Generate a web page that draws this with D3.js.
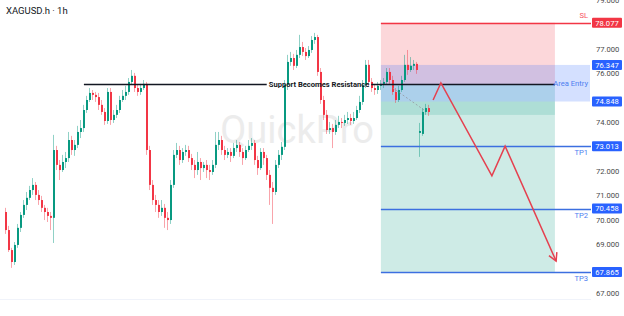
<!DOCTYPE html>
<html>
<head>
<meta charset="utf-8">
<script src="https://cdn.jsdelivr.net/npm/d3@7/dist/d3.min.js"></script>
<style>
  body { margin: 0; background: #fff; }
  svg { display: block; font-family: Roboto, "Noto Sans", sans-serif; }
</style>
</head>
<body>
<div id="chart"></div>
<script>
// XAGUSD.h 1h candles, [open, high, low, close], one per slot
const candles = [
  [70.32,70.49,69.42,69.58],[69.58,69.75,68.68,68.76],[68.76,68.85,68.03,68.27],[68.27,69.09,68.15,68.97],
  [68.97,69.83,68.85,69.67],[69.67,70.32,69.50,70.20],[70.20,70.81,70.08,70.61],[70.61,71.14,70.40,70.90],
  [70.90,71.39,70.81,71.22],[71.22,71.71,71.02,71.43],[71.43,71.55,70.81,71.02],[71.02,71.22,70.61,70.81],
  [70.81,70.98,70.32,70.49],[70.49,70.61,69.99,70.32],[70.32,70.49,69.91,70.16],[70.16,70.32,69.58,70.08],
  [70.08,73.48,69.05,72.86],[72.86,73.03,72.04,72.25],[72.25,72.45,71.63,72.04],[72.04,72.66,71.96,72.37],
  [72.37,72.78,72.12,72.53],[72.53,73.60,72.37,73.27],[73.27,73.44,72.66,72.86],[72.86,73.27,72.62,73.07],
  [73.07,73.85,72.94,73.60],[73.60,74.09,73.35,73.76],[73.76,74.71,73.60,74.50],[74.50,75.08,74.38,74.91],
  [74.91,75.40,74.83,75.20],[75.20,75.32,74.91,75.12],[75.12,75.24,74.83,75.03],[75.03,75.20,74.50,74.71],
  [74.71,74.91,74.30,74.42],[74.42,74.58,73.89,74.05],[74.05,75.40,73.93,75.24],[75.24,75.40,73.89,74.09],
  [74.09,74.50,73.97,74.30],[74.30,74.71,74.17,74.50],[74.50,75.08,74.38,74.91],[74.91,75.32,74.83,75.08],
  [75.08,75.49,74.91,75.24],[75.24,75.81,75.12,75.65],[75.65,76.14,75.53,75.90],[75.90,76.02,75.24,75.40],
  [75.40,75.53,75.08,75.24],[75.24,75.57,75.12,75.40],[75.40,75.73,75.32,75.57],[75.57,75.65,72.66,72.86],
  [72.86,73.03,71.22,71.43],[71.43,71.63,70.61,70.81],[70.81,71.02,70.32,70.61],[70.61,70.81,70.08,70.32],
  [70.32,70.81,70.16,70.49],[70.49,70.65,69.67,70.08],[70.08,70.32,69.58,69.99],[69.99,71.63,69.83,71.43],
  [71.43,72.86,71.31,72.66],[72.66,73.15,72.53,72.86],[72.86,73.03,72.25,72.45],[72.45,72.94,72.33,72.78],
  [72.78,73.07,72.62,72.86],[72.86,73.03,72.37,72.53],[72.53,72.70,72.04,72.25],[72.25,72.45,71.71,72.04],
  [72.04,72.78,71.84,72.37],[72.37,72.53,71.63,72.12],[72.12,72.37,71.96,72.25],[72.25,72.45,71.71,72.04],
  [72.04,72.25,71.63,71.96],[71.96,72.45,71.84,72.25],[72.25,73.60,72.12,73.07],[73.07,73.60,72.86,73.27],
  [73.27,73.44,72.66,72.86],[72.86,73.03,72.45,72.66],[72.66,72.94,72.53,72.78],[72.78,72.94,72.37,72.62],
  [72.62,73.15,72.53,72.94],[72.94,73.27,72.78,73.07],[73.07,73.19,72.58,72.78],[72.78,72.94,72.25,72.53],
  [72.53,73.03,72.45,72.86],[72.86,73.27,72.78,73.03],[73.03,73.35,72.86,73.15],[73.15,73.27,72.25,72.45],
  [72.45,72.62,71.84,72.12],[72.12,72.94,72.04,72.78],[72.78,72.94,72.25,72.53],[72.53,72.66,71.63,71.84],
  [71.84,72.04,70.61,71.31],[71.31,71.55,69.83,71.14],[71.14,72.45,71.02,72.25],[72.25,72.86,72.12,72.66],
  [72.66,73.19,72.45,72.99],[72.99,75.73,72.86,75.53],[75.53,76.76,75.32,76.47],[76.47,76.88,76.31,76.63],
  [76.63,76.80,76.14,76.31],[76.31,76.96,76.22,76.76],[76.76,77.58,76.63,77.08],[77.08,77.29,76.71,76.88],
  [76.88,77.04,76.55,76.71],[76.71,77.12,76.63,76.96],[76.96,77.53,76.84,77.37],[77.37,77.66,77.21,77.49],
  [77.49,77.58,75.90,76.06],[76.06,76.22,74.75,74.91],[74.91,75.08,74.09,74.30],[74.30,74.50,73.52,73.68],
  [73.68,74.01,73.52,73.76],[73.76,73.93,72.94,73.60],[73.60,74.09,73.48,73.89],[73.89,74.26,73.76,74.01],
  [74.01,74.17,73.76,73.97],[73.97,74.30,73.85,74.09],[74.09,74.42,73.93,74.17],[74.17,74.34,73.89,74.05],
  [74.05,74.42,73.93,74.17],[74.17,74.67,74.09,74.50],[74.50,75.08,74.38,74.83],[74.83,75.73,74.71,75.53],
  [75.53,76.55,75.40,76.35],[76.35,76.55,75.49,75.65],[75.65,75.81,75.24,75.40],[75.40,75.53,75.12,75.32],
  [75.32,75.65,75.16,75.49],[75.49,75.73,75.32,75.57],[75.57,75.81,75.40,75.65],[75.65,76.22,75.53,76.06],
  [76.06,76.22,75.57,75.73],[75.73,75.90,75.12,75.24],[75.24,75.40,74.79,74.91],[74.91,75.49,74.83,75.32],
  [75.32,75.90,75.24,75.73],[75.73,76.76,75.65,76.35],[76.35,76.96,75.94,76.14],[76.14,76.67,76.06,76.31],
  [76.31,76.55,76.14,76.39],[76.39,76.47,75.98,76.14],[73.56,73.97,72.58,73.64],[73.52,74.58,73.44,74.42],
  [74.42,74.75,74.30,74.58],[74.58,74.71,74.26,74.42]
];

// price axis ticks (labels hidden behind a price tag are left out)
const priceTicks = [67, 69, 70, 71, 72, 74, 76, 77, 79];

// date ticks, in slot units
const dateSlots = [27, 56.5, 75.5, 105.5, 135, 164.5, 194.5];
const dateLabels = ["Apr", "3", "7", "9", "11", "15", "17"];

// trade levels
const levelNames = ["SL", "", "Area Entry", "TP1", "TP2", "TP3"];
const levelPrices = [78.077, 76.347, 74.848, 73.013, 70.458, 67.865];
const entryPrice = 75.57;
const innerZoneLow = 74.30;

// drawings, in slot units
const supportSlots = [26.3, 183.3];
const zoneSlots = [125.3, 183.3];
const areaEndSlot = 195;
const gapSlots = [129.3, 139.7];
const gapPrices = [75.40, 74.50];
const projSlots = [142.7, 145.3, 162.3, 166.7, 183.7];
const projPrices = [74.91, 75.61, 71.80, 73.02, 68.31];

const W = 624, H = 316;
const plotRight = 591, axisTop = 299;
const up = "#089981", down = "#f23645", blue = "#2962ff";

const levels = levelPrices.map((p, i) => ({ name: levelNames[i], price: p, idx: i }));

const svg = d3.select("#chart").append("svg")
  .attr("width", W)
  .attr("height", H);

const x = d3.scaleLinear().domain([0, 200]).range([5, 605]);
const y = d3.scaleLinear().domain([67, 77]).range([293, 49]);

svg.append("clipPath").attr("id", "plot")
  .append("rect").attr("x", 0).attr("y", 0).attr("width", plotRight).attr("height", axisTop);

const plot = svg.append("g").attr("clip-path", "url(#plot)");

// watermark
plot.append("text")
  .attr("x", 297).attr("y", 143)
  .attr("text-anchor", "middle")
  .attr("font-size", 38)
  .attr("fill", "#ececec")
  .text("QuickPro");

// position zones
plot.append("rect")
  .attr("x", x(zoneSlots[0])).attr("width", x(zoneSlots[1]) - x(zoneSlots[0]))
  .attr("y", y(levelPrices[0])).attr("height", y(entryPrice) - y(levelPrices[0]))
  .attr("fill", "rgba(242,54,69,0.2)");
plot.append("rect")
  .attr("x", x(zoneSlots[0])).attr("width", x(zoneSlots[1]) - x(zoneSlots[0]))
  .attr("y", y(entryPrice)).attr("height", y(levelPrices[5]) - y(entryPrice))
  .attr("fill", "rgba(8,153,129,0.2)");
plot.append("rect")
  .attr("x", x(zoneSlots[0])).attr("width", x(zoneSlots[1]) - x(zoneSlots[0]))
  .attr("y", y(levelPrices[2])).attr("height", y(innerZoneLow) - y(levelPrices[2]))
  .attr("fill", "rgba(8,153,129,0.16)");
// area entry box
plot.append("rect")
  .attr("x", x(zoneSlots[0])).attr("width", x(areaEndSlot) - x(zoneSlots[0]))
  .attr("y", y(levelPrices[1])).attr("height", y(levelPrices[2]) - y(levelPrices[1]))
  .attr("fill", "rgba(41,98,255,0.2)");

// candles
const c = plot.append("g");
c.selectAll(".wick").data(candles).enter().append("line")
  .attr("class", "wick")
  .attr("x1", (d, i) => Math.round(x(i)) + 0.5)
  .attr("x2", (d, i) => Math.round(x(i)) + 0.5)
  .attr("y1", d => y(d[1]))
  .attr("y2", d => y(d[2]))
  .attr("stroke", d => d[3] >= d[0] ? up : down)
  .attr("stroke-opacity", 0.45)
  .attr("stroke-width", 1);
c.selectAll(".body").data(candles).enter().append("rect")
  .attr("class", "body")
  .attr("x", (d, i) => Math.round(x(i)))
  .attr("width", 2)
  .attr("y", d => y(Math.max(d[0], d[3])))
  .attr("height", d => Math.max(1, Math.abs(y(d[0]) - y(d[3]))))
  .attr("fill", d => d[3] >= d[0] ? up : down);

// weekend gap connector
plot.append("line")
  .attr("x1", x(gapSlots[0])).attr("y1", y(gapPrices[0]))
  .attr("x2", x(gapSlots[1])).attr("y2", y(gapPrices[1]))
  .attr("stroke", "#9598a1").attr("stroke-width", 0.8)
  .attr("stroke-dasharray", "2,2");

// level lines (SL and targets)
plot.selectAll(".lvl").data(levels.filter(d => d.name === "SL" || d.name.startsWith("TP")))
  .enter().append("line")
  .attr("class", "lvl")
  .attr("x1", x(zoneSlots[0])).attr("x2", plotRight)
  .attr("y1", d => Math.round(y(d.price)) + 0.5).attr("y2", d => Math.round(y(d.price)) + 0.5)
  .attr("stroke", d => d.idx === 0 ? down : "#3c6fe0")
  .attr("stroke-width", 1.3);

// support line with label
const supY = Math.round(y(entryPrice)) + 0.5;
const supLabel = plot.append("text")
  .attr("x", 319).attr("y", supY + 2.6)
  .attr("text-anchor", "middle")
  .attr("font-size", 7.6)
  .attr("font-weight", "bold")
  .attr("fill", "#131722")
  .text("Support Becomes Resistance");
const bb = supLabel.node().getBBox();
plot.append("line")
  .attr("x1", x(supportSlots[0])).attr("x2", bb.x - 2)
  .attr("y1", supY).attr("y2", supY)
  .attr("stroke", "#131722").attr("stroke-width", 1.3);
plot.append("line")
  .attr("x1", bb.x + bb.width + 2).attr("x2", x(supportSlots[1]))
  .attr("y1", supY).attr("y2", supY)
  .attr("stroke", "#131722").attr("stroke-width", 1.3);

// projected path
const proj = projSlots.map((s, i) => [x(s), y(projPrices[i])]);
plot.append("path")
  .attr("d", d3.line()(proj))
  .attr("fill", "none")
  .attr("stroke", "#e5404f")
  .attr("stroke-width", 1.5)
  .attr("stroke-linejoin", "miter");
const tip = proj[proj.length - 1], prev = proj[proj.length - 2];
const ang = Math.atan2(tip[1] - prev[1], tip[0] - prev[0]);
const head = [ang + Math.PI - 0.5, ang + Math.PI + 0.5].map(a => [tip[0] + 9 * Math.cos(a), tip[1] + 9 * Math.sin(a)]);
plot.append("path")
  .attr("d", d3.line()([head[0], tip, head[1]]))
  .attr("fill", "none")
  .attr("stroke", "#e5404f")
  .attr("stroke-width", 1.5);

// level names
plot.selectAll(".lname").data(levels.filter(d => d.name !== "")).enter().append("text")
  .attr("class", "lname")
  .attr("x", 588)
  .attr("y", d => d.idx === 0 ? y(d.price) - 4.5 : d.idx === 2 ? y(entryPrice) + 2.6 : y(d.price) + 9)
  .attr("text-anchor", "end")
  .attr("font-size", 7.6)
  .attr("fill", d => d.idx === 0 ? "#f7525f" : "#4d7ef0")
  .text(d => d.name);

// title
svg.append("text")
  .attr("x", 6).attr("y", 14)
  .attr("font-size", 9.5)
  .attr("fill", "#131722")
  .text("XAGUSD.h \u00b7 1h");

// time axis
svg.append("line")
  .attr("x1", 0).attr("x2", plotRight)
  .attr("y1", axisTop + 0.5).attr("y2", axisTop + 0.5)
  .attr("stroke", "#f0f3fa");
svg.append("clipPath").attr("id", "xclip")
  .append("rect").attr("x", 0).attr("y", axisTop).attr("width", 593).attr("height", H - axisTop);
const xAxis = svg.append("g")
  .attr("clip-path", "url(#xclip)")
  .attr("transform", "translate(0," + axisTop + ")")
  .call(d3.axisBottom(x).tickValues(dateSlots).tickSize(0).tickPadding(5)
    .tickFormat((d, i) => dateLabels[i]));
xAxis.select(".domain").remove();
xAxis.selectAll("text")
  .attr("font-size", 7.6)
  .attr("font-family", "Roboto, sans-serif")
  .attr("fill", "#4a4a4a")
  .attr("font-weight", (d, i) => i === 0 ? "bold" : "normal");

// price axis
const yAxis = svg.append("g")
  .attr("transform", "translate(596,0)")
  .call(d3.axisRight(y).tickValues(priceTicks).tickSize(0).tickPadding(0)
    .tickFormat(d3.format(".3f")));
yAxis.select(".domain").remove();
yAxis.selectAll("text")
  .attr("font-size", 7.6)
  .attr("font-family", "Roboto, sans-serif")
  .attr("fill", "#4a4a4a");

// price tags
const tags = svg.append("g");
tags.selectAll("rect").data(levels).enter().append("rect")
  .attr("x", 592).attr("width", 30)
  .attr("y", d => y(d.price) - 5).attr("height", 10)
  .attr("rx", 1)
  .attr("fill", d => d.idx === 0 ? down : blue);
tags.selectAll("text").data(levels).enter().append("text")
  .attr("x", 607).attr("y", d => y(d.price) + 2.8)
  .attr("text-anchor", "middle")
  .attr("font-size", 7.6)
  .attr("fill", "#fff")
  .text(d => d3.format(".3f")(d.price));
</script>
</body>
</html>
